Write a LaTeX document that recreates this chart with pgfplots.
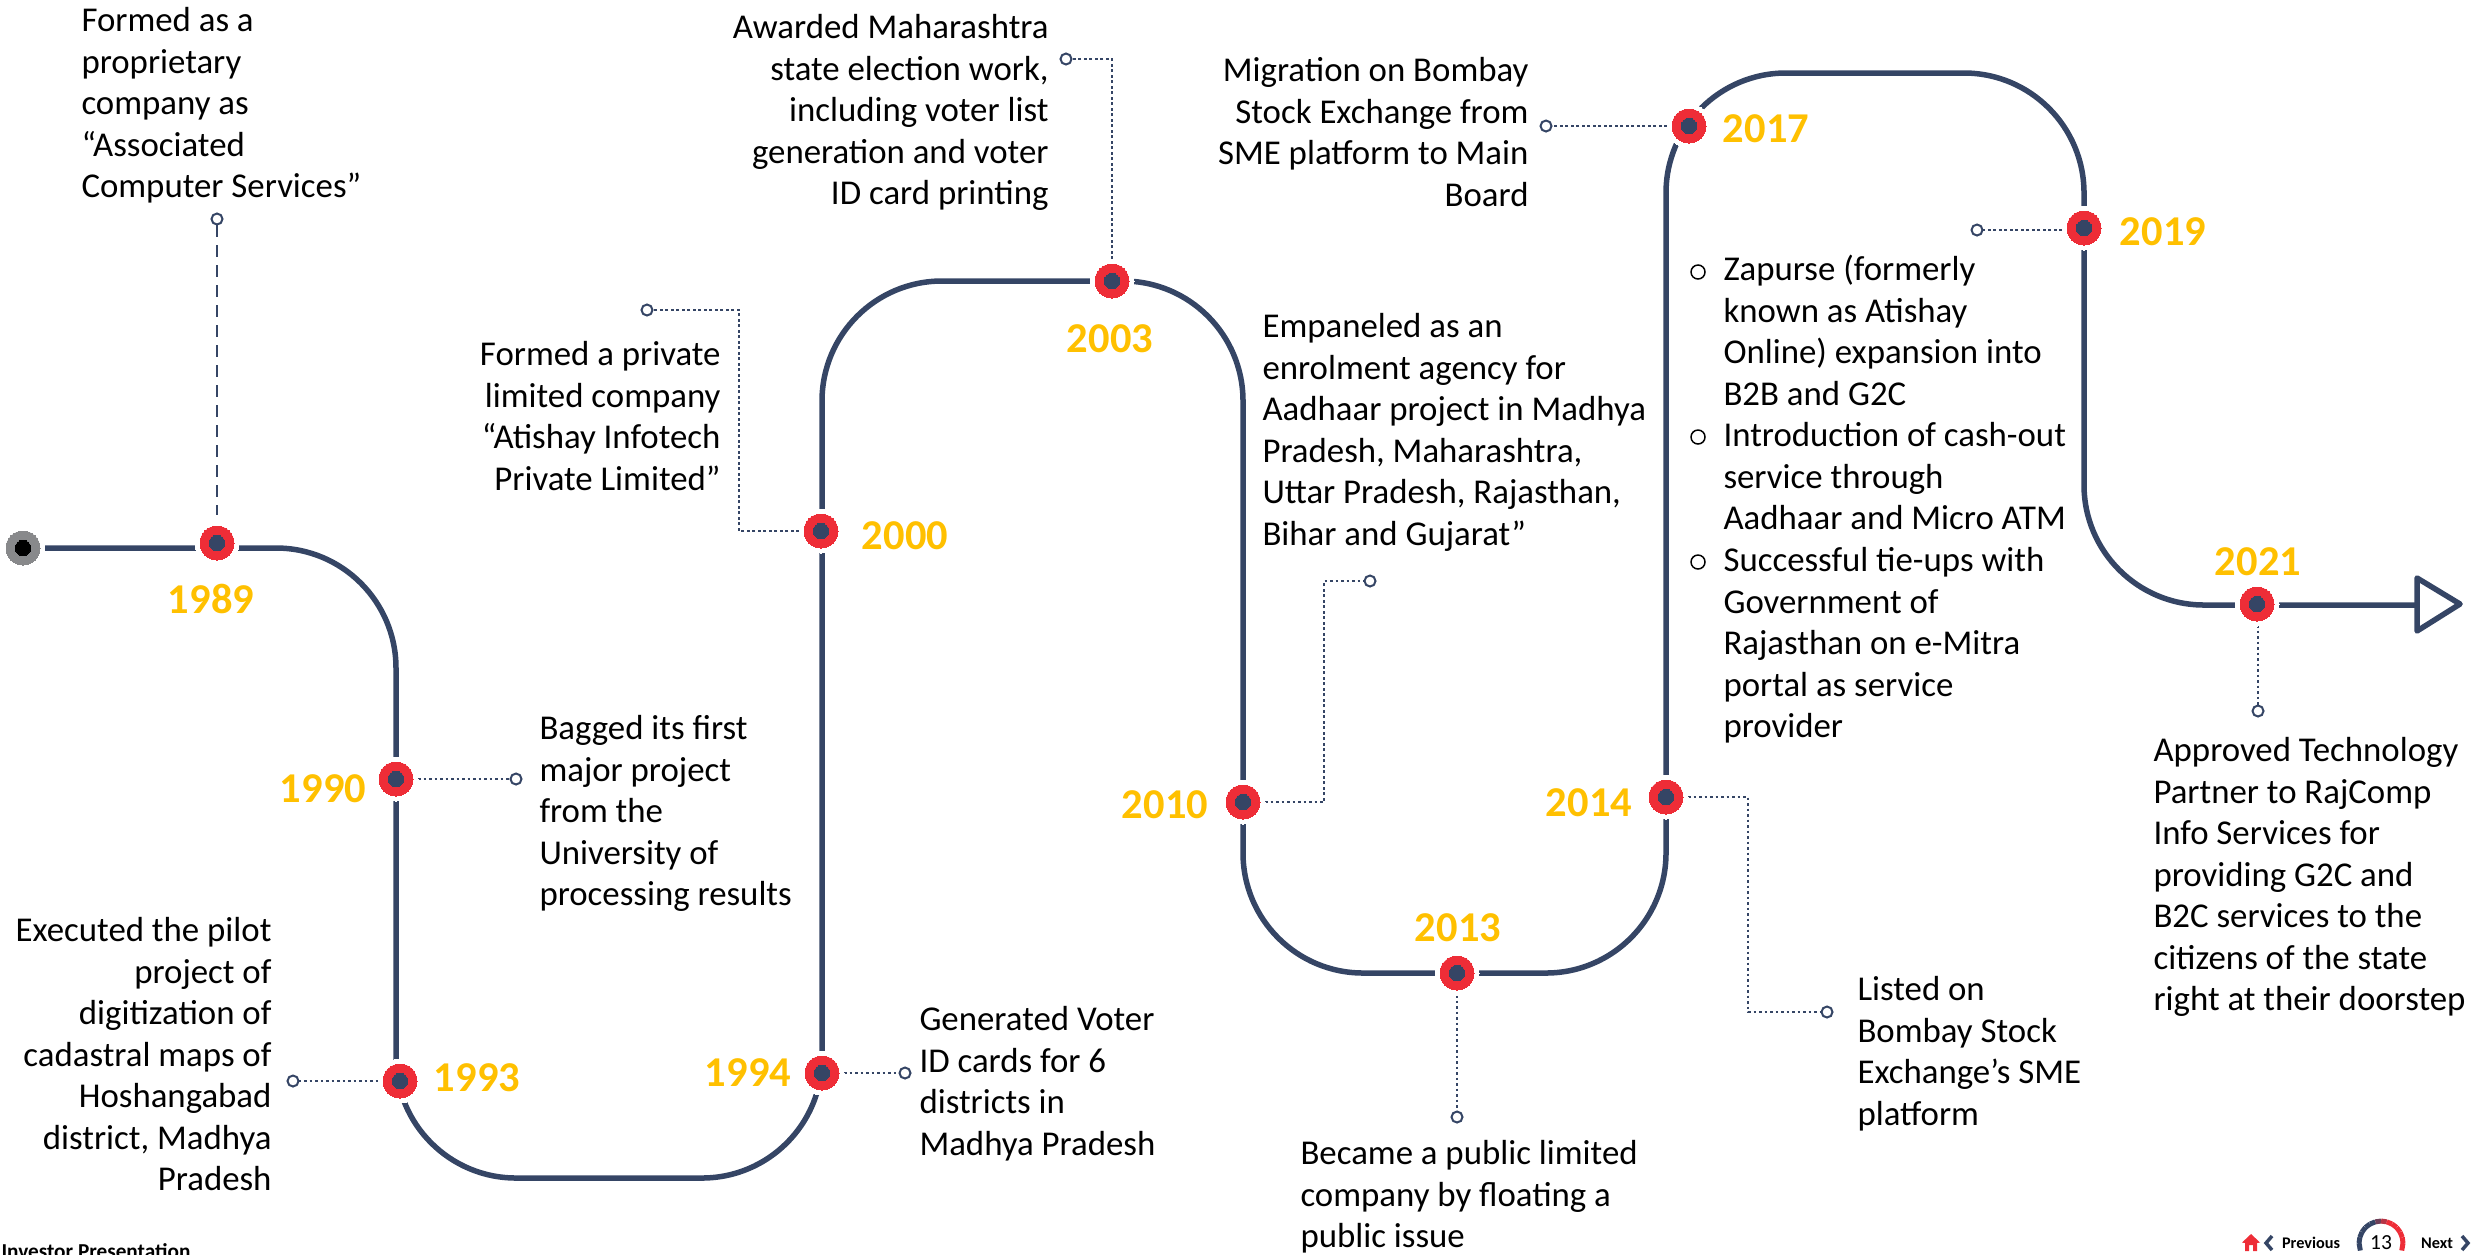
\documentclass[border=0pt]{standalone}
\usepackage{fontspec}
\setmainfont{Carlito}
\usepackage{pgfplots}
\pgfplotsset{compat=1.18}
\definecolor{navy}{HTML}{354565}
\definecolor{dotred}{HTML}{EE2D37}
\definecolor{yeargold}{HTML}{FFC000}
\definecolor{startgray}{HTML}{88898B}
\tikzset{
  txt/.style={inner sep=0pt,yshift=-1.2pt,font=\fontsize{13.93}{16.62}\selectfont},
  txtL/.style={txt,anchor=north west,align=left},
  txtR/.style={txt,anchor=north east,align=right},
  year/.style={inner sep=0pt,anchor=center,text=yeargold,font=\fontsize{17}{20}\selectfont\bfseries},
  foot/.style={inner sep=0pt,anchor=center,font=\fontsize{6.5}{8}\selectfont\bfseries},
}
\pgfplotsset{
  leader/.style={navy,line width=0.6pt,dash pattern=on 1.1pt off 1.1pt},
  hub/.style={only marks,mark=*,mark size=2.2pt,mark options={solid,draw=navy,fill=white,line width=0.8pt}},
  disc/.style={only marks,mark=*,mark size=#1,mark options={solid,line width=0pt}},
}
\begin{document}
\begin{tikzpicture}
\path[use as bounding box,clip] (0,0) rectangle (992.4pt,501.6pt);
\begin{axis}[
    at={(0,0)},anchor=south west,
    scale only axis,width=992.4pt,height=501.6pt,
    xmin=0,xmax=2481,ymin=0,ymax=1254,
    y dir=reverse,
    hide axis,clip=false,
    colormap={navred}{rgb255=(53,69,101) rgb255=(53,69,101) rgb255=(238,45,55) rgb255=(238,45,55)},
]
% main track
\addplot[navy,line width=2.2pt,rounded corners=48pt] coordinates {
  (45,548) (396,548) (396,1178) (822,1178) (822,281) (1243,281)
  (1243,973) (1666,973) (1666,73) (2084,73) (2084,605) (2417,605)};
% arrow head
\addplot[navy,line width=2.2pt,line join=round,fill=white] coordinates {
  (2417,578) (2460,604) (2417,631)} -- cycle;
% leaders
\addplot[navy,line width=0.6pt,dash pattern=on 4.8pt off 3.2pt] coordinates {(217,225) (217,515)};
\addplot[leader] coordinates {(396,779) (516,779)};
\addplot[leader] coordinates {(293,1081) (400,1081)};
\addplot[leader] coordinates {(822,1073) (905,1073)};
\addplot[leader] coordinates {(821,531) (739,531) (739,310) (647,310)};
\addplot[leader] coordinates {(1112,281) (1112,59) (1066,59)};
\addplot[leader] coordinates {(1243,802) (1324,802) (1324,581) (1370,581)};
\addplot[leader] coordinates {(1457,973) (1457,1117)};
\addplot[leader] coordinates {(1666,797) (1748,797) (1748,1012) (1827,1012)};
\addplot[leader] coordinates {(1689,126) (1546,126)};
\addplot[leader] coordinates {(2084,230) (1977,230)};
\addplot[leader] coordinates {(2258,603) (2258,711)};
\addplot[hub] coordinates {(217,219) (516,779) (293,1081) (905,1073) (647,310) (1066,59)
  (1370,581) (1457,1117) (1827,1012) (1546,126) (1977,230) (2258,711)};
% milestones
\addplot[disc=8.8pt,white] coordinates {
  (217,543) (396,779) (400,1081) (822,1073) (821,531) (1112,281) (1243,802)
  (1457,973) (1666,797) (1689,126) (2084,228) (2257,604)};
\addplot[disc=6.8pt,dotred] coordinates {
  (217,543) (396,779) (400,1081) (822,1073) (821,531) (1112,281) (1243,802)
  (1457,973) (1666,797) (1689,126) (2084,228) (2257,604)};
\addplot[disc=3.1pt,navy] coordinates {
  (217,543) (396,779) (400,1081) (822,1073) (821,531) (1112,281) (1243,802)
  (1457,973) (1666,797) (1689,126) (2084,228) (2257,604)};
% start dot
\addplot[disc=6.8pt,startgray] coordinates {(23,548)};
\addplot[disc=3.1pt,black] coordinates {(23,548)};
% bullets of 2017-2019 list
\addplot[only marks,mark=o,mark size=2.8pt,mark options={black,line width=0.6pt}] coordinates {(1698,272) (1698,437) (1698,562)};
% years
\node[year] at (axis cs:211,599) {1989};
\node[year] at (axis cs:323,789) {1990};
\node[year] at (axis cs:477,1078) {1993};
\node[year] at (axis cs:748,1073) {1994};
\node[year] at (axis cs:905,536) {2000};
\node[year] at (axis cs:1110,339) {2003};
\node[year] at (axis cs:1165,805) {2010};
\node[year] at (axis cs:1458,928) {2013};
\node[year] at (axis cs:1589,803) {2014};
\node[year] at (axis cs:1766,129) {2017};
\node[year] at (axis cs:2163,232) {2019};
\node[year] at (axis cs:2258,562) {2021};
% texts
\node[txtL] at (axis cs:81,-1) {\strut Formed as a\\proprietary\\company as\\“Associated\\Computer Services”};
\node[txtR] at (axis cs:1049,6) {\strut Awarded Maharashtra\\state election work,\\including voter list\\generation and voter\\ID card printing};
\node[txtR] at (axis cs:1529,49) {\strut Migration on Bombay\\Stock Exchange from\\SME platform to Main\\Board};
\node[txtR] at (axis cs:721,333) {\strut Formed a private\\limited company\\“Atishay Infotech\\Private Limited”};
\node[txtL] at (axis cs:1262,305) {\strut Empaneled as an\\enrolment agency for\\Aadhaar project in Madhya\\Pradesh, Maharashtra,\\Uttar Pradesh, Rajasthan,\\Bihar and Gujarat”};
\node[txtL] at (axis cs:1723,248) {\strut Zapurse (formerly\\known as Atishay\\Online) expansion into\\B2B and G2C\\Introduction of cash-out\\service through\\Aadhaar and Micro ATM\\Successful tie-ups with\\Government of\\Rajasthan on e-Mitra\\portal as service\\provider};
\node[txtL] at (axis cs:539,707) {\strut Bagged its first\\major project\\from the\\University of\\processing results};
\node[txtR] at (axis cs:272,909) {\strut Executed the pilot\\project of\\digitization of\\cadastral maps of\\Hoshangabad\\district, Madhya\\Pradesh};
\node[txtL] at (axis cs:919,998) {\strut Generated Voter\\ID cards for 6\\districts in\\Madhya Pradesh};
\node[txtL] at (axis cs:1300,1132) {\strut Became a public limited\\company by floating a\\public issue};
\node[txtL] at (axis cs:1857,968) {\strut Listed on\\Bombay Stock\\Exchange’s SME\\platform};
\node[txtL] at (axis cs:2153,729) {\strut Approved Technology\\Partner to RajComp\\Info Services for\\providing G2C and\\B2C services to the\\citizens of the state\\right at their doorstep};
% footer
\node[inner sep=0pt,anchor=base west,font=\fontsize{8.5}{10}\selectfont\bfseries] at (axis cs:1,1258) {Investor Presentation};
\addplot[fill=dotred,draw=none] coordinates {
  (2251,1234) (2260,1242.5) (2257,1243) (2257,1251) (2253,1251) (2253,1245)
  (2249,1245) (2249,1251) (2245,1251) (2245,1243) (2242,1242.5)} -- cycle;
\addplot[navy,line width=1.4pt] coordinates {(2272,1236) (2266,1243) (2272,1250)};
\addplot[navy,line width=1.4pt] coordinates {(2462,1236) (2468,1243) (2462,1250)};
\node[foot] at (axis cs:2311,1243) {Previous};
\node[foot] at (axis cs:2437,1243) {Next};
\node[inner sep=0pt,anchor=center,font=\fontsize{8.6}{10}\selectfont] at (axis cs:2381,1243) {13};
\addplot[mesh,point meta=x,line width=2pt] coordinates {
  (2360.3,1250.5) (2359,1243) (2359.8,1237.3) (2362,1232) (2365.4,1227.4) (2370,1224)
  (2375.3,1221.8) (2381,1221) (2386.7,1221.8) (2392,1224) (2396.6,1227.4) (2400,1232)
  (2402.2,1237.3) (2403,1243) (2401.7,1250.5)};
\end{axis}
\end{tikzpicture}
\end{document}
